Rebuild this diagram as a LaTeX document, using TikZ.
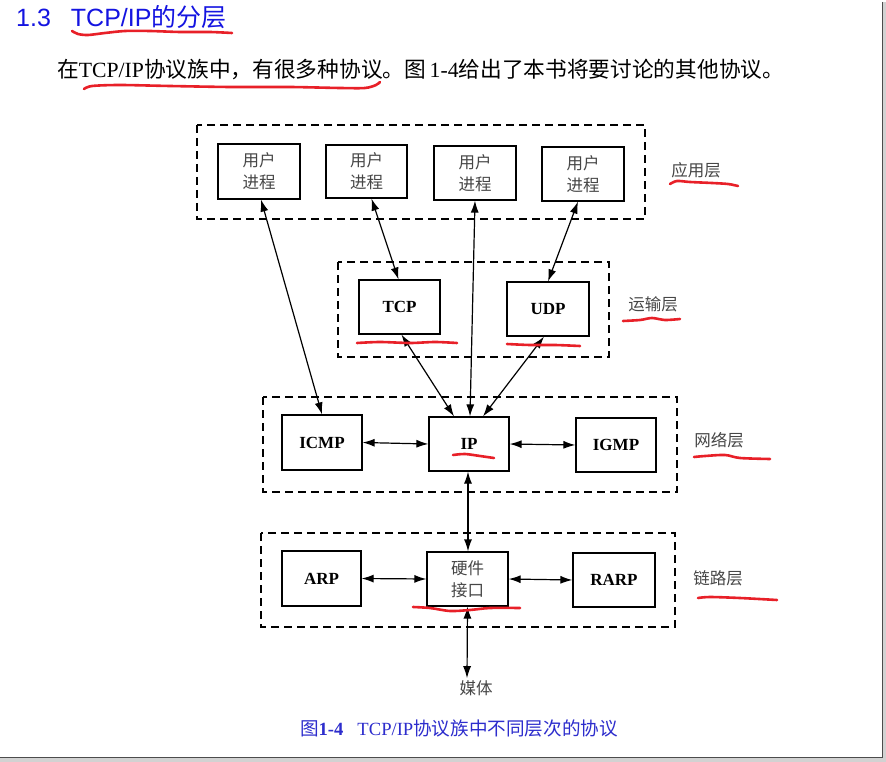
\documentclass[tikz,border=0pt]{standalone}
\usepackage{fontspec}
\setmainfont{Liberation Serif}
\newfontfamily\cjk{Noto Sans CJK SC}
\newfontfamily\titlesans{Liberation Sans}
\usetikzlibrary{arrows.meta}
\definecolor{titleblue}{RGB}{20,20,225}
\definecolor{capblue}{RGB}{45,45,205}
\definecolor{penred}{RGB}{232,32,40}
\definecolor{labgray}{RGB}{70,70,70}
\tikzset{
  box/.style={draw=black, line width=1.2pt, fill=white, inner sep=0pt, align=center},
  cjkbox/.style={box, font=\cjk\fontsize{16.5}{22}\selectfont, text=labgray},
  protobox/.style={box, font=\bfseries\fontsize{17}{19}\selectfont},
  layer/.style={draw=black, line width=1.2pt, dash pattern=on 8pt off 5pt},
  layerlabel/.style={font=\cjk\fontsize{16.5}{18}\selectfont, text=labgray, inner sep=0pt},
  biarrow/.style={{Latex[length=12pt,width=8pt]}-{Latex[length=12pt,width=8pt]}, line width=1.2pt},
  redpen/.style={draw=penred, line width=2.6pt, line cap=round, line join=round},
}
\begin{document}
\begin{tikzpicture}[x=1pt,y=-1pt]
\useasboundingbox (0,0) rectangle (886,762);
\fill[white] (0,0) rectangle (886,762);
% screenshot frame
\fill[gray!35] (883,2) rectangle (886,762);
\fill[gray!35] (0,758) rectangle (886,762);
\draw[black!70, line width=1.6pt] (882.5,2) -- (882.5,757.5) -- (0,757.5);

% title
\node[anchor=west, inner sep=0pt, text=titleblue, font=\titlesans\fontsize{25}{28}\selectfont] (title) at (16,17)
  {1.3\hspace{20pt}TCP/IP{\cjk\fontsize{25}{28}\selectfont 的分层}};
% paragraph
\node[anchor=west, inner sep=0pt, font=\fontsize{21.7}{24}\selectfont] (para) at (57,70)
  {{\cjk 在}TCP/IP{\cjk 协议族中，有很多种协议。图}\,1-4{\cjk 给出了本书将要讨论的其他协议。}};

% layer frames
\draw[layer] (197,125) rectangle (645,219);
\draw[layer] (338,262) rectangle (609,357);
\draw[layer] (263,397) rectangle (677,492);
\draw[layer] (261,533) rectangle (675,627);

% application layer
\node[cjkbox, minimum width=82pt, minimum height=55pt] (u1) at (259,171.5) {用户\\进程};
\node[cjkbox, minimum width=81pt, minimum height=53pt] (u2) at (366.5,171.5) {用户\\进程};
\node[cjkbox, minimum width=82pt, minimum height=54pt] (u3) at (475,173) {用户\\进程};
\node[cjkbox, minimum width=82pt, minimum height=54pt] (u4) at (583,174) {用户\\进程};
% transport
\node[protobox, minimum width=81pt, minimum height=54pt] (tcp) at (399.5,307) {TCP};
\node[protobox, minimum width=82pt, minimum height=54pt] (udp) at (548,309) {UDP};
% network
\node[protobox, minimum width=80pt, minimum height=55pt] (icmp) at (322,442.5) {ICMP};
\node[protobox, minimum width=80pt, minimum height=54pt] (ip) at (469,444) {IP};
\node[protobox, minimum width=80pt, minimum height=54pt] (igmp) at (616,445) {IGMP};
% link
\node[protobox, minimum width=79pt, minimum height=55pt] (arp) at (321.5,578.5) {ARP};
\node[cjkbox, minimum width=81pt, minimum height=54pt] (hw) at (467.5,579) {硬件\\接口};
\node[protobox, minimum width=82pt, minimum height=54pt] (rarp) at (614,580) {RARP};
% medium
\node[font=\cjk\fontsize{16.5}{18}\selectfont, text=labgray, inner sep=2pt] (media) at (476,688) {媒体};

% layer labels
\node[layerlabel] (lapp) at (696,170) {应用层};
\node[layerlabel] (ltra) at (653,304) {运输层};
\node[layerlabel] (lnet) at (719,440) {网络层};
\node[layerlabel] (llnk) at (718,578) {链路层};

% connectors
\draw[biarrow] ([xshift=2pt]u1.south) -- (icmp.north);
\draw[biarrow] ([xshift=5pt]u2.south) -- ([xshift=-1pt]tcp.north);
\draw[biarrow] (u3.south) -- ([xshift=1pt]ip.north);
\draw[biarrow] ([xshift=-5pt]u4.south) -- (udp.north);
\draw[biarrow] ([xshift=2pt]tcp.south) -- ([xshift=-15pt]ip.north);
\draw[biarrow] ([xshift=-4pt]udp.south) -- ([xshift=14pt]ip.north);
\draw[biarrow] (icmp.east) -- (ip.west);
\draw[biarrow] (ip.east) -- (igmp.west);
\draw[biarrow] ([xshift=-1pt]ip.south) -- ([xshift=0.5pt]hw.north);
\draw[biarrow] (arp.east) -- (hw.west);
\draw[biarrow] (hw.east) -- (rarp.west);
\draw[biarrow] (hw.south) -- ([xshift=-9pt]media.north);

% caption
\node[text=capblue, font=\fontsize{18.6}{20}\selectfont, inner sep=0pt] (caption) at (459,728)
  {{\cjk 图}\textbf{1-4}\hspace{14pt}TCP/IP{\cjk 协议族中不同层次的协议}};

% red hand underlines
\draw[redpen] plot[smooth] coordinates {(72,31) (78,34) (88,35) (105,33) (125,31) (150,31) (180,32) (210,32) (232,33)};
\draw[redpen] plot[smooth] coordinates {(84,89) (92,86) (120,85) (170,86) (230,87) (290,87) (340,88) (365,88) (376,85) (380,82)};
\draw[redpen] plot[smooth] coordinates {(670,184) (677,181) (690,182) (712,183) (728,184) (738,186)};
\draw[redpen] plot[smooth] coordinates {(623,321) (640,320) (652,318) (665,320) (680,319)};
\draw[redpen] plot[smooth] coordinates {(357,343) (380,342) (410,343) (435,342) (457,343)};
\draw[redpen] plot[smooth] coordinates {(507,344) (530,345) (555,345) (580,346)};
\draw[redpen] plot[smooth] coordinates {(453,455) (465,454) (480,456) (494,458)};
\draw[redpen] plot[smooth] coordinates {(694,457) (705,456) (725,455) (740,458) (770,459)};
\draw[redpen] plot[smooth] coordinates {(413,607) (430,608) (450,611) (470,610) (490,608) (520,608)};
\draw[redpen] plot[smooth] coordinates {(698,598) (710,597) (740,598) (777,600)};
\end{tikzpicture}
\end{document}
